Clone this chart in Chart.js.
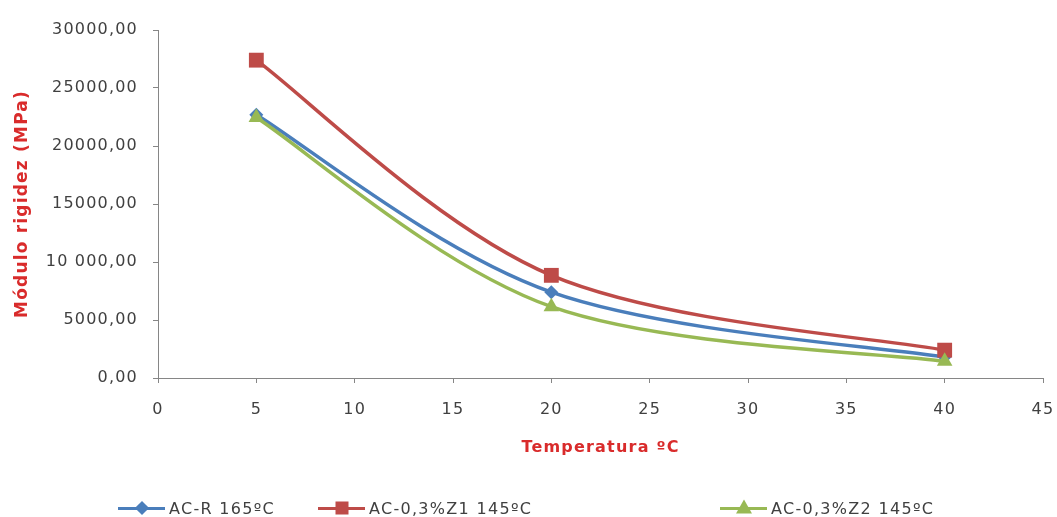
<!DOCTYPE html>
<html>
<head>
<meta charset="utf-8">
<script src="https://cdn.jsdelivr.net/npm/chart.js@4"></script>
<style>
  html, body { margin: 0; padding: 0; background: #fff; }
  #wrap { position: relative; width: 1057px; height: 517px; }
  #legend { position: absolute; left: 0; top: 496px; width: 1057px; height: 24px;
    font-family: "DejaVu Sans", sans-serif; font-size: 16px; letter-spacing: 1.3px; color: #404040; }
  .item { position: absolute; top: 0; height: 24px; display: flex; align-items: center; white-space: nowrap; }
  .line { position: relative; width: 47px; height: 3px; margin-right: 4px; }
  .mk { position: absolute; left: 50%; top: 50%; }
</style>
</head>
<body>
<div id="wrap">
  <canvas id="myChart" width="1057" height="517"></canvas>
  <div id="legend"></div>
</div>
<script>
// données
const temperatures = [5, 20, 40];
const acR165 = [22700, 7400, 1800];
const acZ1145 = [27400, 8850, 2400];
const acZ2145 = [22450, 6150, 1450];
const seriesNames = ['AC-R 165ºC', 'AC-0,3%Z1 145ºC', 'AC-0,3%Z2 145ºC'];
const yTickLabels = ['0,00', '5000,00', '10 000,00', '15000,00', '20000,00', '25000,00', '30000,00'];

const blue = '#4a7ebb';
const red = '#be4b48';
const green = '#98b954';
const textColor = '#404040';
const axisColor = '#868686';
const titleColor = '#d92b2b';

const toPoints = vals => temperatures.map((t, i) => ({ x: t, y: vals[i] }));

// espacement des lettres sur le canvas
const spacing = {
  id: 'spacing',
  beforeLayout(chart) { chart.ctx.letterSpacing = '1.2px'; },
  beforeDraw(chart) { chart.ctx.letterSpacing = '1.2px'; }
};

// lissage façon Excel : points de contrôle à 1/6 de (suivant - précédent)
const excelSmooth = {
  id: 'excelSmooth',
  beforeDatasetDraw(chart, args) {
    const meta = args.meta;
    meta.dataset.updateControlPoints(chart.chartArea, meta.iScale.axis);
    const pts = meta.data;
    const n = pts.length;
    pts.forEach((cur, i) => {
      const prev = pts[Math.max(i - 1, 0)];
      const next = pts[Math.min(i + 1, n - 1)];
      const dx = (next.x - prev.x) / 6;
      const dy = (next.y - prev.y) / 6;
      cur.cp1x = cur.x - dx;
      cur.cp1y = cur.y - dy;
      cur.cp2x = cur.x + dx;
      cur.cp2y = cur.y + dy;
    });
  }
};

const ctx = document.getElementById('myChart').getContext('2d');
const myChart = new Chart(ctx, {
  type: 'line',
  data: {
    datasets: [
      { label: seriesNames[0], data: toPoints(acR165), borderColor: blue, backgroundColor: blue,
        pointStyle: 'rectRot', pointRadius: 7, order: 3 },
      { label: seriesNames[1], data: toPoints(acZ1145), borderColor: red, backgroundColor: red,
        pointStyle: 'rect', pointRadius: 10.5, order: 2 },
      { label: seriesNames[2], data: toPoints(acZ2145), borderColor: green, backgroundColor: green,
        pointStyle: 'triangle', pointRadius: 9, order: 1 }
    ]
  },
  options: {
    responsive: false,
    animation: false,
    layout: { padding: { left: 0, right: 0, top: 30, bottom: 49 } },
    elements: {
      line: { borderWidth: 3.5, tension: 0.4 },
      point: { borderWidth: 0, hoverRadius: 9 }
    },
    plugins: {
      legend: { display: false },
      tooltip: { enabled: true }
    },
    scales: {
      x: {
        type: 'linear',
        min: 0, max: 45,
        ticks: { stepSize: 5, color: textColor, padding: 17,
          font: { family: 'DejaVu Sans', size: 16 } },
        grid: { drawOnChartArea: false, drawTicks: true, tickLength: 5, color: axisColor },
        border: { color: axisColor },
        title: { display: true, text: 'Temperatura ºC', color: titleColor,
          font: { family: 'DejaVu Sans', size: 16, weight: 'bold' }, padding: { top: 0, bottom: 11 } },
        afterFit(scale) { scale.height = 90; scale.paddingRight = 14; scale.paddingLeft = 0; }
      },
      y: {
        min: 0, max: 30000,
        ticks: { stepSize: 5000, color: textColor, padding: 15,
          font: { family: 'DejaVu Sans', size: 16 },
          callback: (value, index) => yTickLabels[index] },
        grid: { drawOnChartArea: false, drawTicks: true, tickLength: 5, color: axisColor },
        border: { color: axisColor },
        title: { display: true, text: 'Módulo rigidez (MPa)', color: titleColor,
          font: { family: 'DejaVu Sans', size: 17, weight: 'bold' }, padding: { top: 12, bottom: 0 } },
        afterFit(scale) { scale.width = 158; }
      }
    }
  },
  plugins: [spacing, excelSmooth]
});

// légende maison (espacement inégal comme l'original)
const legendPos = [118, 318, 720];
const markers = [
  '<div class="mk" style="width:10px;height:10px;background:' + blue + ';transform:translate(-50%,-50%) rotate(45deg)"></div>',
  '<div class="mk" style="width:13px;height:13px;background:' + red + ';transform:translate(-50%,-50%)"></div>',
  '<div class="mk" style="width:0;height:0;border-left:8px solid transparent;border-right:8px solid transparent;border-bottom:14px solid ' + green + ';transform:translate(-50%,-60%)"></div>'
];
const colors = [blue, red, green];
const legend = document.getElementById('legend');
seriesNames.forEach((name, i) => {
  const item = document.createElement('div');
  item.className = 'item';
  item.style.left = legendPos[i] + 'px';
  item.innerHTML = '<div class="line" style="background:' + colors[i] + '">' + markers[i] + '</div><span>' + name + '</span>';
  legend.appendChild(item);
});
</script>
</body>
</html>
